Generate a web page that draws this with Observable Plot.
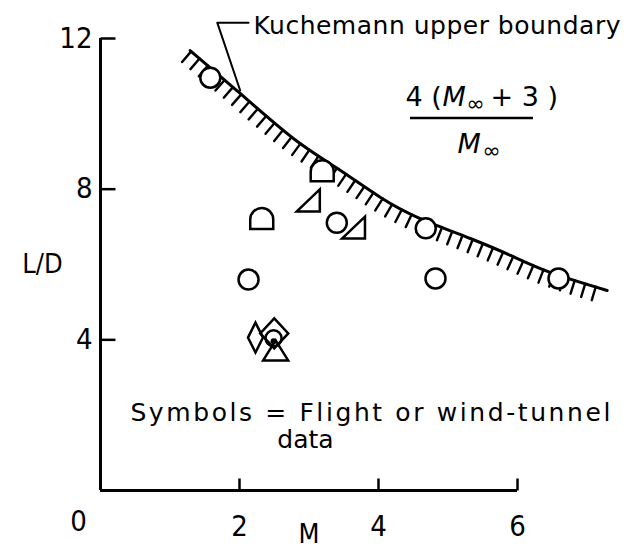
<!DOCTYPE html>
<html>
<head>
<meta charset="utf-8">
<script src="https://cdn.jsdelivr.net/npm/d3@7"></script>
<script src="https://cdn.jsdelivr.net/npm/@observablehq/plot@0.6"></script>
<style>
  body { margin: 0; background: #fff; }
</style>
</head>
<body>
<div id="chart"></div>
<script>
// Kuchemann upper boundary, traced as (M, L/D) points
const boundaryM  = [1.29, 2.01, 2.78, 3.41, 4.03, 4.60, 5.32, 5.90, 6.47, 7.29];
const boundaryLD = [11.68, 10.54, 9.34, 8.55, 7.78, 7.22, 6.69, 6.24, 5.79, 5.31];

// Leader from the boundary up to its label
const leaderM  = [2.01, 1.68, 2.13];
const leaderLD = [10.62, 12.42, 12.42];

// Flight or wind-tunnel data, one pair of arrays per symbol
const circleM   = [1.58, 3.40, 2.13, 4.82, 4.68, 6.59];
const circleLD  = [10.96, 7.11, 5.60, 5.63, 6.96, 5.63];
const archM     = [3.19, 2.32];
const archLD    = [8.49, 7.22];
const wedgeM    = [2.99, 3.64];
const wedgeLD   = [7.70, 6.98];
const diamondM  = [2.50];
const diamondLD = [4.17];
const slimM     = [2.23];
const slimLD    = [4.06];
const ringDotM  = [2.49];
const ringDotLD = [4.04];
const triM      = [2.52];
const triLD     = [3.72];

// Axis ticks
const xTicks = [2, 4, 6];
const yTicks = [4, 8, 12];

const pts = (ms, lds) => ms.map((m, i) => ({m, ld: lds[i]}));
const boundary = pts(boundaryM, boundaryLD);
const leader = pts(leaderM, leaderLD);

// Hand-drawn style symbols
const poly = (c, p) => { c.moveTo(p[0][0], p[0][1]); for (const q of p.slice(1)) c.lineTo(q[0], q[1]); c.closePath(); };
const arch = {draw(c) { c.moveTo(-11.5, 10.5); c.lineTo(-11.5, 1); c.arc(0, 1, 11.5, Math.PI, 2 * Math.PI); c.lineTo(11.5, 10.5); c.closePath(); }};
const wedge = {draw(c) { poly(c, [[-11.5, 11], [11.5, -11], [11.5, 11]]); }};
const diamond = {draw(c) { poly(c, [[0, -15], [14, 0], [0, 15], [-14, 0]]); }};
const slim = {draw(c) { poly(c, [[0, -15], [7.5, 0], [0, 15], [-7.5, 0]]); }};
const tri = {draw(c) { poly(c, [[0, -10], [12.5, 10], [-12.5, 10]]); }};
const tickUp = {draw(c) { c.moveTo(0, 0); c.lineTo(0, -12); }};
const tickRight = {draw(c) { c.moveTo(0, 0); c.lineTo(15, 0); }};

// Short strokes hanging below the boundary curve
function hatching(index, scales) {
  const P = boundary.map(d => [scales.x(d.m), scales.y(d.ld)]);
  const tmp = d3.select(document.body).append("svg").attr("width", 0).attr("height", 0).style("position", "absolute");
  const path = tmp.append("path").attr("d", d3.line().curve(d3.curveNatural)(P)).node();
  const L = path.getTotalLength();
  const g = d3.create("svg:g").attr("stroke", "black").attr("stroke-width", 2.4).attr("stroke-linecap", "round");
  for (let s = 2; s < L - 1; s += 11) {
    const a = path.getPointAtLength(s), b = path.getPointAtLength(Math.min(L, s + 1));
    let tx = b.x - a.x, ty = b.y - a.y;
    const n = Math.hypot(tx, ty) || 1; tx /= n; ty /= n;
    g.append("line").attr("x1", a.x).attr("y1", a.y).attr("x2", a.x - 14 * ty).attr("y2", a.y + 14 * tx);
  }
  tmp.remove();
  return g.node();
}

const sym = (ms, lds, symbol, fill) => Plot.dot(pts(ms, lds), {x: "m", y: "ld", symbol, r: 10, fill, stroke: "black", strokeWidth: 2.5});
const numFont = "'Liberation Sans Narrow', 'DejaVu Sans Condensed', sans-serif";
const fracX = 4.39, fracY = 10.45;

const chart = Plot.plot({
  width: 631,
  height: 550,
  marginLeft: 100,
  marginRight: 114,
  marginTop: 38,
  marginBottom: 60,
  x: {domain: [0, 6], axis: null},
  y: {domain: [0, 12], axis: null},
  style: {fontFamily: "'DejaVu Sans', sans-serif", fontSize: "25px", color: "black", background: "white", overflow: "visible"},
  marks: [
    // axes
    Plot.ruleX([0], {y1: 0, y2: 12, stroke: "black", strokeWidth: 3}),
    Plot.ruleY([0], {x1: 0, x2: 6, stroke: "black", strokeWidth: 3}),
    Plot.dot(xTicks, {x: d => d, y: 0, symbol: tickUp, fill: "none", stroke: "black", strokeWidth: 2.5}),
    Plot.dot(yTicks, {x: 0, y: d => d, symbol: tickRight, fill: "none", stroke: "black", strokeWidth: 2.5}),
    Plot.text(xTicks, {x: d => d, y: 0, text: d => String(d), dy: 36, fontFamily: numFont, fontSize: 29}),
    Plot.text(yTicks, {x: 0, y: d => d, text: d => String(d), dx: -8, textAnchor: "end", fontFamily: numFont, fontSize: 29}),
    Plot.text(["0"], {x: 0, y: 0, text: d => d, dx: -22, dy: 31, fontFamily: numFont, fontSize: 29}),
    Plot.text(["M"], {x: 3, y: 0, text: d => d, dy: 44, fontFamily: numFont, fontSize: 27}),
    Plot.text(["L/D"], {x: 0, y: 6, text: d => d, dx: -58, fontFamily: numFont, fontSize: 27}),

    // boundary curve and its hatching
    Plot.line(boundary, {x: "m", y: "ld", curve: "natural", stroke: "black", strokeWidth: 3}),
    hatching,
    Plot.line(leader, {x: "m", y: "ld", stroke: "black", strokeWidth: 2}),
    Plot.text(["Kuchemann upper boundary"], {x: 2.20, y: 12.34, text: d => d, textAnchor: "start", fontSize: 25}),

    // boundary formula
    Plot.text(["4 ("], {x: fracX, y: fracY, text: d => d, textAnchor: "start", fontSize: 27}),
    Plot.text(["M"], {x: fracX, y: fracY, text: d => d, dx: 37, textAnchor: "start", fontSize: 27, fontStyle: "italic"}),
    Plot.text(["\u221e"], {x: fracX, y: fracY, text: d => d, dx: 61, dy: 7, textAnchor: "start", fontSize: 22}),
    Plot.text(["+ 3 )"], {x: fracX, y: fracY, text: d => d, dx: 85, textAnchor: "start", fontSize: 27}),
    Plot.ruleY([fracY], {x1: 4.46, x2: 6.23, dy: 21, stroke: "black", strokeWidth: 2.5}),
    Plot.text(["M"], {x: fracX, y: fracY, text: d => d, dx: 52, dy: 47, textAnchor: "start", fontSize: 27, fontStyle: "italic"}),
    Plot.text(["\u221e"], {x: fracX, y: fracY, text: d => d, dx: 77, dy: 54, textAnchor: "start", fontSize: 22}),

    // data symbols
    sym(circleM, circleLD, "circle", "white"),
    sym(archM, archLD, arch, "white"),
    sym(wedgeM, wedgeLD, wedge, "white"),
    sym(slimM, slimLD, slim, "none"),
    sym(diamondM, diamondLD, diamond, "none"),
    Plot.dot(pts(ringDotM, ringDotLD), {x: "m", y: "ld", r: 8, fill: "none", stroke: "black", strokeWidth: 2.5}),
    Plot.dot(pts(ringDotM, ringDotLD), {x: "m", y: "ld", r: 3, dy: 3, fill: "black"}),
    sym(triM, triLD, tri, "none"),

    // note
    Plot.text(["Symbols = Flight or wind-tunnel"], {x: 0.43, y: 2.07, text: d => d, textAnchor: "start", fontSize: 25}),
    Plot.text(["data"], {x: 2.95, y: 1.33, text: d => d, fontSize: 25})
  ]
});

// looser letter spacing for the two long captions
const spacing = {"Symbols = Flight or wind-tunnel": "2.6px", "Kuchemann upper boundary": "0.5px"};
d3.select(chart).selectAll("text").each(function() {
  const s = spacing[this.textContent];
  if (s) this.setAttribute("letter-spacing", s);
});

document.getElementById("chart").append(chart);
</script>
</body>
</html>
